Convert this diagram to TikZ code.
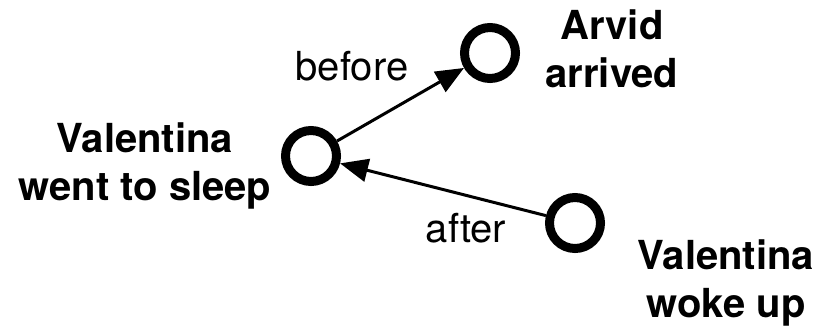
\documentclass[tikz,border=0pt]{standalone}
\usepackage{fontspec}
\setmainfont{TeX Gyre Heros}
\usetikzlibrary{arrows.meta}

\begin{document}
\begin{tikzpicture}[x=0.5pt, y=-0.5pt]
    \tikzstyle{event} = [circle, draw, line width=4.5pt, inner sep=0pt, minimum size=25.5pt]
    \tikzstyle{eventtext} = [font=\fontsize{20}{24}\selectfont\bfseries, align=center, anchor=base, inner sep=0pt]
    \tikzstyle{reltext} = [font=\fontsize{20}{24}\selectfont, anchor=base, inner sep=0pt]
    \tikzstyle{rel} = [line width=1.5pt, -{Triangle[length=14pt, width=11.5pt]}]
    \useasboundingbox (0,0) rectangle (817,332);
    \node[event] (sleep) at (311,156) {};
    \node[event] (arrived) at (490,53) {};
    \node[event] (woke) at (575,223) {};
    % anchor=base sits on the last line
    \node[eventtext] (sleeptext) at (145,200) {Valentina\\went to sleep};
    \node[eventtext] (arrivedtext) at (612,87) {Arvid\\arrived};
    \node[eventtext] (woketext) at (726,317) {Valentina\\woke up};
    \node[reltext] (before) at (352,80) {before};
    \node[reltext] (after) at (466,242) {after};
    \draw[rel] (sleep) -- (arrived);
    \draw[rel] (woke) -- (sleep);
\end{tikzpicture}
\end{document}
